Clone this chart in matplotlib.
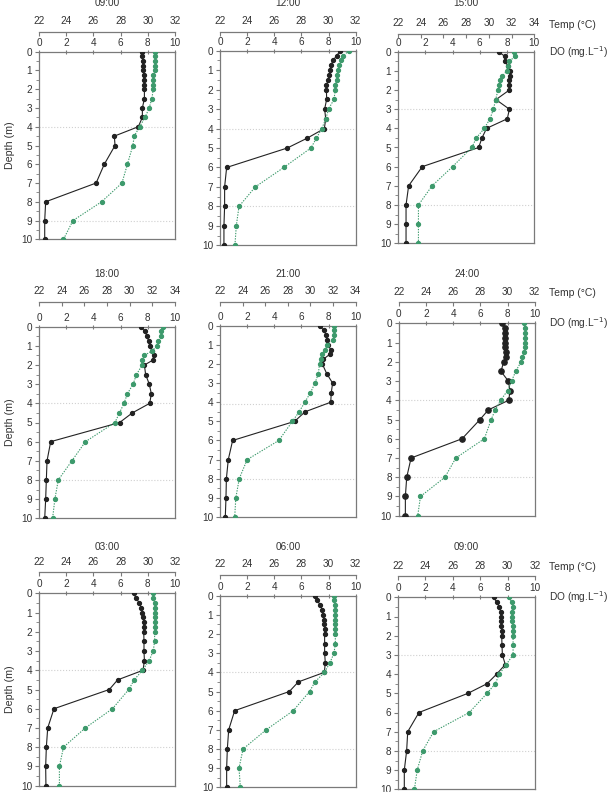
import matplotlib
matplotlib.use("Agg")
from matplotlib import pyplot as plt
from matplotlib.ticker import MultipleLocator

plt.rcParams['font.family'] = ['Liberation Sans Narrow', 'Liberation Sans', 'DejaVu Sans']

# sampling depths (m), shared by every profile
depth = [0, 0.25, 0.5, 0.75, 1, 1.25, 1.5, 1.75, 2, 2.5, 3, 3.5, 4, 4.5, 5, 6, 7, 8, 9, 10]

times = ["09:00", "12:00", "15:00", "18:00", "21:00", "24:00", "03:00", "06:00", "09:00"]

# dissolved oxygen (mg/L), black solid
do_0900 = [7.55, 7.6, 7.62, 7.65, 7.67, 7.7, 7.72, 7.75, 7.75, 7.75, 7.6, 7.6, 7.3, 5.54, 5.59, 4.8, 4.2, 0.49, 0.42, 0.42]
do_1200 = [8.87, 8.6, 8.33, 8.18, 8.1, 8.06, 7.99, 7.84, 7.84, 7.86, 7.71, 7.79, 7.69, 6.41, 4.96, 0.49, 0.34, 0.34, 0.29, 0.29]
do_1500 = [7.38, 7.85, 7.82, 8.09, 8.21, 8.21, 8.17, 8.17, 8.17, 7.19, 8.17, 8.02, 6.5, 6.16, 5.92, 1.78, 0.78, 0.59, 0.59, 0.59]
do_1800 = [7.48, 7.79, 7.94, 8.06, 8.14, 8.31, 8.43, 8.36, 7.75, 7.84, 8.11, 8.26, 8.14, 6.86, 5.93, 0.86, 0.59, 0.54, 0.49, 0.42]
do_2100 = [7.35, 7.64, 7.84, 7.86, 7.96, 8.16, 8.08, 7.62, 7.54, 7.86, 8.3, 8.2, 8.16, 6.27, 5.5, 0.93, 0.61, 0.47, 0.44, 0.39]
do_2400 = [7.6, 7.79, 7.82, 7.84, 7.84, 7.84, 7.87, 7.89, 7.72, 7.52, 8.06, 8.19, 8.09, 6.59, 5.98, 4.66, 0.91, 0.59, 0.49, 0.49]
do_0300 = [6.96, 7.13, 7.38, 7.52, 7.6, 7.67, 7.7, 7.7, 7.7, 7.72, 7.72, 7.75, 7.65, 5.78, 5.17, 1.1, 0.64, 0.54, 0.49, 0.51]
do_0600 = [6.98, 7.17, 7.4, 7.54, 7.59, 7.67, 7.69, 7.71, 7.71, 7.71, 7.71, 7.76, 7.69, 5.77, 5.11, 1.08, 0.64, 0.54, 0.49, 0.49]
do_0900b = [6.98, 7.2, 7.4, 7.49, 7.52, 7.54, 7.54, 7.57, 7.57, 7.59, 7.62, 7.83, 7.2, 6.5, 5.11, 1.53, 0.71, 0.63, 0.46, 0.46]

# water temperature (degC), green dotted
temp_0900 = [30.5, 30.5, 30.5, 30.5, 30.5, 30.4, 30.4, 30.4, 30.4, 30.3, 30.1, 29.8, 29.4, 29.0, 28.9, 28.5, 28.1, 26.6, 24.5, 23.8]
temp_1200 = [31.5, 31.1, 30.9, 30.8, 30.7, 30.6, 30.6, 30.5, 30.5, 30.4, 30.0, 29.8, 29.5, 29.1, 28.7, 26.7, 24.6, 23.4, 23.2, 23.1]
temp_1500 = [32.2, 32.3, 31.8, 31.7, 31.6, 31.2, 31.0, 30.9, 30.8, 30.6, 30.4, 30.1, 29.6, 28.9, 28.5, 26.8, 25.0, 23.8, 23.8, 23.8]
temp_1800 = [32.9, 32.8, 32.8, 32.5, 32.4, 32.0, 31.3, 31.1, 31.1, 30.6, 30.3, 29.8, 29.5, 29.1, 28.7, 26.1, 24.9, 23.7, 23.4, 23.2]
temp_2100 = [32.1, 32.1, 32.1, 32.0, 31.5, 31.3, 31.0, 30.9, 30.8, 30.7, 30.4, 30.0, 29.5, 29.0, 28.4, 27.2, 24.4, 23.7, 23.4, 23.3]
temp_2400 = [31.2, 31.3, 31.3, 31.3, 31.3, 31.3, 31.2, 31.1, 31.0, 30.6, 30.3, 30.0, 29.5, 29.1, 28.8, 28.3, 26.2, 25.4, 23.6, 23.4]
temp_0300 = [30.4, 30.4, 30.5, 30.5, 30.5, 30.5, 30.5, 30.5, 30.5, 30.5, 30.4, 30.1, 29.6, 29.0, 28.6, 27.4, 25.4, 23.8, 23.5, 23.5]
temp_0600 = [30.4, 30.4, 30.5, 30.5, 30.5, 30.5, 30.5, 30.5, 30.5, 30.5, 30.4, 30.1, 29.7, 29.0, 28.6, 27.4, 25.4, 23.7, 23.4, 23.5]
temp_0900b = [30.1, 30.3, 30.4, 30.3, 30.3, 30.3, 30.4, 30.4, 30.4, 30.4, 30.4, 29.9, 29.4, 29.1, 28.5, 27.2, 24.6, 23.8, 23.4, 23.2]

do_profiles = [do_0900, do_1200, do_1500, do_1800, do_2100, do_2400, do_0300, do_0600, do_0900b]
temp_profiles = [temp_0900, temp_1200, temp_1500, temp_1800, temp_2100, temp_2400, temp_0300, temp_0600, temp_0900b]

# upper limit of the temperature axis for each panel
temp_max = [32, 32, 34, 34, 34, 32, 32, 32, 32]

# depths of the faint dotted layer boundaries
layers = [[4, 9], [4, 8], [3, 8], [4, 8], [4.1, 8], [4, 8], [4, 8], [4, 8], [3, 8]]

# panel boxes in pixels: x at DO=0, x at DO=10, y at depth 0, y at depth 10
boxes = [(39, 175, 51.7, 239.3), (220, 355.7, 50.7, 245.3), (398, 534.3, 51.7, 243.3),
         (39, 175, 326.7, 518.3), (220, 355.7, 325.7, 517), (398.7, 534.7, 323.3, 515.7),
         (39, 175, 593.3, 785.7), (220, 355.7, 595.7, 787.3), (398, 535, 597.3, 789.3)]
temp_offsets = [20, 19, 18, 25, 24, 21, 21, 21, 21]
title_y = [3, 3, 3, 274, 274, 274, 547, 547, 547]

W, H = 610, 792
green = "#3d9a6c"
grey = "#7a7a7a"
txt = "#333333"
fs = 7.2

fig = plt.figure(figsize=(W / 100, H / 100), dpi=100)

for i in range(9):
    x0, x1, y0, y1 = boxes[i]
    ax = fig.add_axes([x0 / W, 1 - y1 / H, (x1 - x0) / W, (y1 - y0) / H])

    for d in layers[i]:
        ax.axhline(d, color="#d0d0d0", ls=":", lw=0.8, zorder=0)

    ax.plot(do_profiles[i], depth, color="#222222", lw=0.8, marker="o",
            ms=3.8 if i == 5 else 2.8, zorder=3)

    # temperature on a second x axis above the DO axis
    ax2 = ax.twiny()
    ax2.plot(temp_profiles[i], depth, color=green, lw=0.8, ls=(0, (1.2, 1.2)), marker="o",
             ms=2.8, zorder=3)
    ax2.set_xlim(22, temp_max[i])
    ax2.set_ylim(10, 0)
    ax2.xaxis.set_major_locator(MultipleLocator(2))
    ax2.spines["top"].set_position(("outward", temp_offsets[i] * 0.72))
    for k in ["left", "right", "bottom"]:
        ax2.spines[k].set_visible(False)
    ax2.spines["top"].set_color(grey)
    ax2.spines["top"].set_linewidth(0.9)
    ax2.tick_params(axis="x", direction="in", length=3, pad=4, labelsize=fs,
                    colors=grey, labelcolor=txt)

    # DO axis sits on the top edge of the box (twiny moved it to the bottom)
    ax.set_xlim(0, 10)
    ax.set_ylim(10, 0)
    ax.xaxis.tick_top()
    ax.xaxis.set_label_position("top")
    ax.xaxis.set_major_locator(MultipleLocator(2))
    ax.yaxis.set_major_locator(MultipleLocator(1))
    ax.yaxis.set_minor_locator(MultipleLocator(0.5))
    ax.tick_params(axis="x", direction="inout", length=3, pad=1.5, labelsize=fs,
                   colors=grey, labelcolor=txt)
    ax.tick_params(axis="y", which="major", direction="out", length=3, pad=2, labelsize=fs,
                   colors=grey, labelcolor=txt)
    ax.tick_params(axis="y", which="minor", direction="out", length=2, colors=grey)
    for s in ax.spines.values():
        s.set_color(grey)
        s.set_linewidth(0.9)

    if i % 3 == 0:
        ax.set_ylabel("Depth (m)", fontsize=fs + 0.5, color=txt, labelpad=4)

    fig.text((x0 + x1) / 2 / W, 1 - title_y[i] / H, times[i], ha="center", va="center",
             fontsize=fs, color=txt)

    if i % 3 == 2:
        fig.text(549 / W, 1 - (y0 - temp_offsets[i] - 9) / H, "Temp (°C)", ha="left",
                 va="center", fontsize=fs + 0.3, color=txt)
        fig.text(549 / W, 1 - y0 / H, "DO (mg.L$^{-1}$)", ha="left", va="center",
                 fontsize=fs + 0.1, color=txt)

fig.savefig("out.png", dpi=100)
